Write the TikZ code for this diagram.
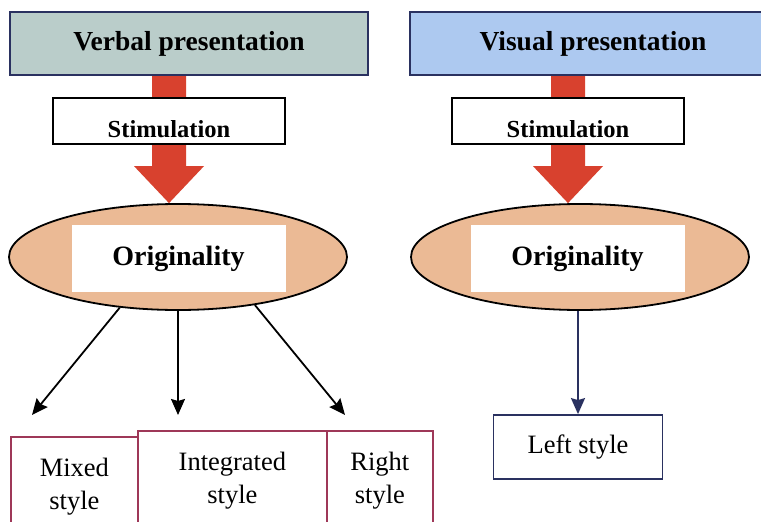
\documentclass[tikz,border=0pt]{standalone}
\usepackage{fontspec}
\setmainfont{Liberation Serif}
\usetikzlibrary{arrows.meta, calc, shapes.geometric, backgrounds}
\definecolor{verbalColor}{HTML}{BACDCA}
\definecolor{visualColor}{HTML}{ADC9F0}
\definecolor{frameColor}{HTML}{2A3160}
\definecolor{pushColor}{HTML}{D8412E}
\definecolor{ovalColor}{HTML}{EBBA95}
\definecolor{styleColor}{HTML}{9E3858}

\begin{document}
\begin{tikzpicture}[x=1pt, y=-1pt, >={Stealth[length=16pt, width=14pt, inset=2pt]},
	title/.style={draw=frameColor, line width=2pt, minimum height=63pt,
		font=\fontsize{27.5}{33}\selectfont\bfseries},
	stimbox/.style={draw=black, fill=white, line width=1.8pt, minimum width=232pt,
		inner ysep=0pt, text height=39pt, text depth=7pt,
		font=\fontsize{24.5}{28}\selectfont\bfseries},
	oval/.style={ellipse, draw=black, fill=ovalColor, line width=1.8pt,
		minimum width=338pt, minimum height=106pt},
	core/.style={fill=white, minimum width=214pt, minimum height=67pt,
		font=\fontsize{28}{33}\selectfont\bfseries},
	outcome/.style={draw=styleColor, line width=1.8pt, align=center, anchor=north west,
		minimum height=100pt, font=\fontsize{26.5}{33}\selectfont},
	link/.style={->, line width=1.8pt}]
	
	% --- 1. Page frame ---
	\path[use as bounding box, clip] (0,0) rectangle (761,522);
	
	% --- 2. Presentation boxes ---
	\node[title, fill=verbalColor, minimum width=358pt] (verbal) at (189,43.5) {Verbal presentation};
	\node[title, fill=visualColor, minimum width=366pt] (visual) at (593,43.5) {Visual presentation};
	
	% --- 3. Stimulation boxes ---
	\node[stimbox] (stimL) at (169,121) {Stimulation};
	\node[stimbox] (stimR) at (568,121) {Stimulation};
	
	% --- 4. Originality ovals ---
	\node[oval] (ovalL) at (178,257) {};
	\node[core] (coreL) at (178.5,258.5) {Originality};
	\node[oval] (ovalR) at (580,257) {};
	\node[core] (coreR) at (577.5,258.5) {Originality};
	
	% --- 5. Thick red arrows, kept behind the boxes ---
	\begin{scope}[on background layer]
		\fill[white] (0,0) rectangle (761,522);
		\foreach \src/\mid/\dst in {verbal/stimL/ovalL, visual/stimR/ovalR} {
			\fill[pushColor]
			($(\src.south -| \mid)+(-17,0)$) -- ($(\src.south -| \mid)+(17,0)$)
			-- ($(\mid |- \dst.north)+(17,-37)$) -- ($(\mid |- \dst.north)+(35,-37)$)
			-- (\mid |- \dst.north)
			-- ($(\mid |- \dst.north)+(-35,-37)$) -- ($(\mid |- \dst.north)+(-17,-37)$)
			-- cycle;
		}
	\end{scope}
	
	% --- 6. Thinking styles ---
	\node[outcome, minimum width=127pt] (mixed) at (10,436) {Mixed\\style};
	\node[outcome, minimum width=189pt] (integrated) at (137,430) {Integrated\\style};
	\node[outcome, minimum width=106pt] (rightsty) at (326,430) {Right\\style};
	\node[draw=frameColor, line width=1.8pt, minimum width=169pt, minimum height=64pt,
	font=\fontsize{26.5}{33}\selectfont] (leftsty) at (578,447) {Left style};
	
	% --- 7. Thin arrows ---
	\coordinate (endA) at (32,415);
	\coordinate (endB) at (178,415);
	\coordinate (endC) at (345,415);
	\draw[link] (ovalL.221) -- (endA);
	\draw[link] (ovalL.south) -- (endB);
	\draw[link] (ovalL.328) -- (endC);
	\draw[link, frameColor] (leftsty.north |- ovalR.south) -- (leftsty.north);
	
\end{tikzpicture}
\end{document}
